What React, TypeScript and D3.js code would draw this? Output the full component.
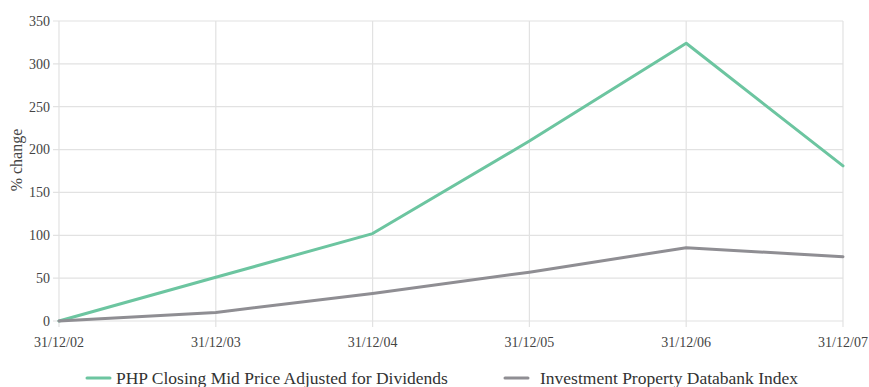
import React from "react";
import * as d3 from "d3";

const dates = ["31/12/02", "31/12/03", "31/12/04", "31/12/05", "31/12/06", "31/12/07"];
const phpValues = [0, 51, 102, 210, 324, 181];
const ipdValues = [0, 10, 32, 57, 85.5, 75];
const yTicks = [0, 50, 100, 150, 200, 250, 300, 350];
const seriesNames = ["PHP Closing Mid Price Adjusted for Dividends", "Investment Property Databank Index"];
const seriesColors = ["#6cc5a0", "#8f8e93"];

const W = 869;
const H = 387;
const left = 59;
const right = 843;
const top = 21;
const bottom = 321;
const font = "Liberation Serif, Times New Roman, DejaVu Serif, serif";

export default function App() {
  const x = d3.scalePoint<string>().domain(dates).range([left, right]);
  const y = d3.scaleLinear().domain([0, 350]).range([bottom, top]);
  const line = d3
    .line<number>()
    .x((_, i) => x(dates[i]) as number)
    .y((d) => y(d));
  const series = [phpValues, ipdValues];

  return (
    <svg width={W} height={H} style={{ position: "absolute", left: 0, top: 0 }}>
      <rect width={W} height={H} fill="#fff" />
      {yTicks.map((t) => (
        <g key={t}>
          <line x1={left - 6} x2={right} y1={y(t)} y2={y(t)} stroke="#e2e2e2" strokeWidth={1.2} />
          <text x={left - 9} y={y(t)} dy="0.35em" textAnchor="end" style={{ fontFamily: font }} fontSize={14} fill="#444">
            {t}
          </text>
        </g>
      ))}
      {dates.map((d) => (
        <g key={d}>
          <line x1={x(d)} x2={x(d)} y1={top} y2={bottom + 6} stroke="#e2e2e2" strokeWidth={1.2} />
          <text x={x(d)} y={347} textAnchor="middle" style={{ fontFamily: font }} fontSize={14} fill="#444">
            {d}
          </text>
        </g>
      ))}
      <text
        transform="translate(22, 160) rotate(-90)"
        textAnchor="middle"
        style={{ fontFamily: font }}
        fontSize={16}
        fill="#444"
      >
        % change
      </text>
      {series.map((s, i) => (
        <path
          key={i}
          d={line(s) ?? ""}
          fill="none"
          stroke={seriesColors[i]}
          strokeWidth={3}
          strokeLinejoin="round"
          strokeLinecap="round"
        />
      ))}
      {[
        { sx: 87, tx: 116 },
        { sx: 505, tx: 540 },
      ].map((p, i) => (
        <g key={i}>
          <line x1={p.sx} x2={p.sx + 23} y1={378} y2={378} stroke={seriesColors[i]} strokeWidth={3} strokeLinecap="round" />
          <text x={p.tx} y={378} dy="0.33em" style={{ fontFamily: font }} fontSize={17.5} fill="#333">
            {seriesNames[i]}
          </text>
        </g>
      ))}
    </svg>
  );
}
